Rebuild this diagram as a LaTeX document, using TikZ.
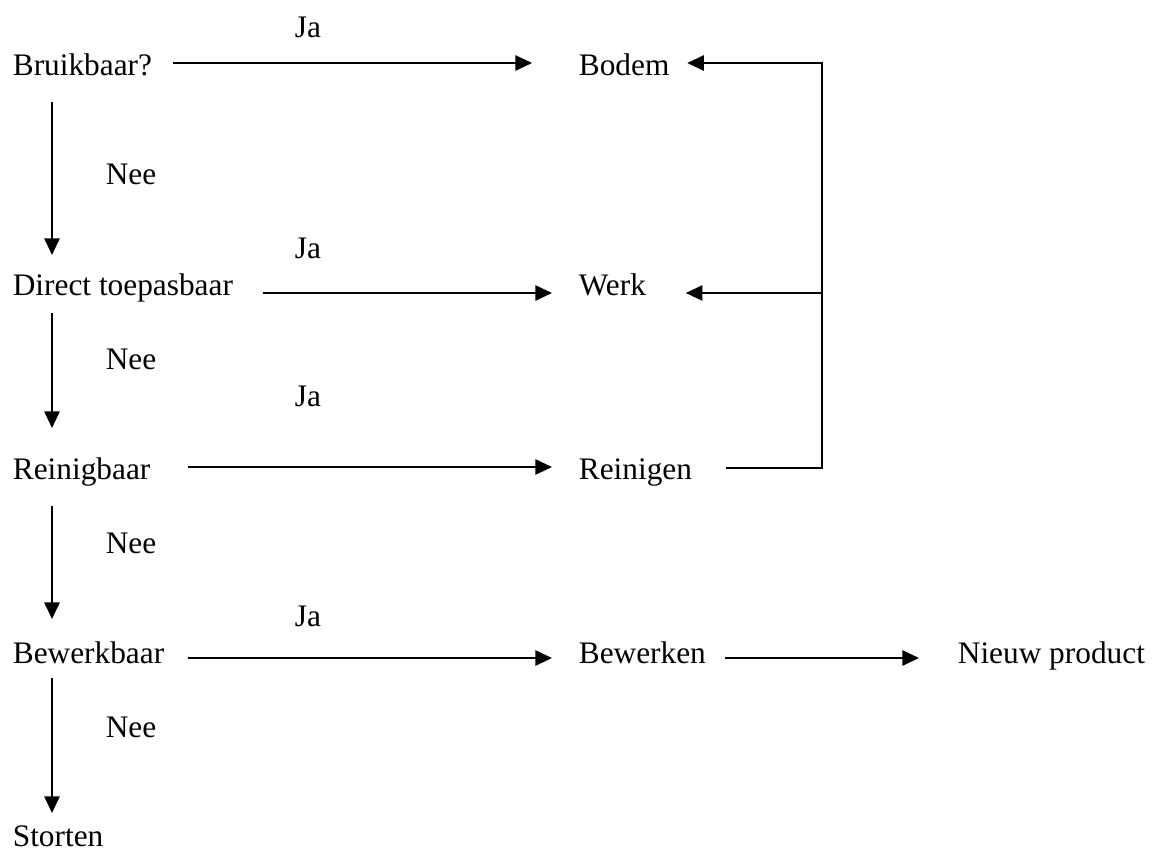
\documentclass[tikz,border=0pt]{standalone}
\usepackage{fontspec}
\setmainfont{Liberation Serif}
\usetikzlibrary{arrows.meta, calc}

\begin{document}
\begin{tikzpicture}[x=0.75pt, y=-0.75pt, >={Triangle[length=12.5pt,width=11.5pt]},
        line width=1.3pt, every node/.style={inner sep=0pt, anchor=base west,
        font=\fontsize{23.5}{28}\selectfont}]

        \useasboundingbox (0,0) rectangle (1153,851);

        \node at (12,75)  (bruik) {Bruikbaar?};
        \node at (12,295) (direct) {Direct toepasbaar};
        \node at (12,479) (reinig) {Reinigbaar};
        \node at (12,663) (bewerk) {Bewerkbaar};
        \node at (12,846) (storten) {Storten};

        \node at (578,75)  (bodem) {Bodem};
        \node at (578,295) (werk) {Werk};
        \node at (578,479) (reinigen) {Reinigen};
        \node at (578,663) (bewerken) {Bewerken};
        \node at (957,663) (nieuw) {Nieuw product};

        \node at (294,37)  (ja1) {Ja};
        \node at (294,258) (ja2) {Ja};
        \node at (294,406) (ja3) {Ja};
        \node at (294,626) (ja4) {Ja};

        \node at (105,184) (nee1) {Nee};
        \node at (105,369) (nee2) {Nee};
        \node at (105,553) (nee3) {Nee};
        \node at (105,737) (nee4) {Nee};

        \draw[->] ($(bruik.base east)+(20,-12)$) -- ($(bodem.base west)+(-46,-12)$);
        \draw[->] ($(direct.base east)+(29,-2)$) -- ($(direct.base west)+(540,-2)$);
        \draw[->] ($(reinig.base east)+(37,-12)$) -- ($(reinigen.base west)+(-26,-12)$);
        \draw[->] ($(bewerk.base east)+(23,-5)$) -- ($(bewerken.base west)+(-26,-5)$);
        \draw[->] ($(bewerken.base east)+(18,-5)$) -- ($(nieuw.base west)+(-38,-5)$);

        \draw[->] ($(bruik.base west)+(40,27)$) -- ($(direct.base west)+(40,-40)$);
        \draw[->] ($(direct.base west)+(40,18)$) -- ($(reinig.base west)+(40,-51)$);
        \draw[->] ($(reinig.base west)+(40,27)$) -- ($(bewerk.base west)+(40,-44)$);
        \draw[->] ($(bewerk.base west)+(40,15)$) -- ($(storten.base west)+(40,-33)$);

        \coordinate (rtop) at (822,63);
        \path ($(werk.base east)+(39,-2)$) coordinate (werkin);
        \draw[->] ($(reinigen.base east)+(33,-11)$) -| (rtop) -- ($(bodem.base east)+(17,-12)$);
        \draw[->] (rtop |- werkin) -- (werkin);

      \end{tikzpicture}
\end{document}
